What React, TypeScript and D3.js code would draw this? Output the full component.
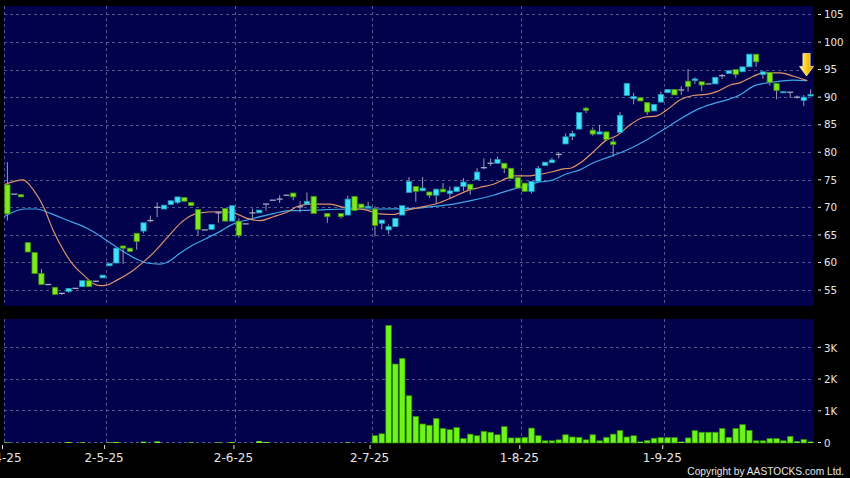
import React from "react";
import * as d3 from "d3";

const W = 850;
const H = 478;

// ---- data (slot index 0..118, null = no candle) ----
const openP: (number | null)[] = [
  74.1, 72.4, 72.3, 63.6, 61.8, 58.0, 56.0, 55.5, 54.4, 54.7,
  55.3, 55.6, 56.7, 56.6, 57.2, 59.4, 59.9, 63.0, 62.6, 65.3,
  65.7, 67.6, 70.0, 69.7, 70.5, 70.9, 71.8, 70.9, 69.6, 65.9,
  66.0, 69.0, 69.8, 67.5, 67.5, 67.0, 69.0, 69.0, 70.6, 71.3,
  71.5, 72.2, 72.6, 70.1, 70.6, 72.0, null, 68.9, null, 68.9,
  68.6, 72.0, 70.6, 69.9, 69.7, 67.1, 65.9, 66.5, 68.6, 72.7,
  73.8, 73.0, 72.8, 72.2, 73.3, 72.5, 72.9, 73.8, 74.2, 75.0,
  77.2, 78.0, 78.0, 78.0, 77.1, 75.4, 74.4, 72.9, 74.7, 77.6,
  78.1, 79.6, 81.5, 82.9, 84.2, 88.0, 84.0, 83.3, 83.7, 81.9,
  83.6, 90.3, 89.7, 89.9, 89.0, 87.5, 89.1, 90.8, 91.4, 91.3,
  92.9, 93.0, 92.8, 92.4, 92.4, 93.9, 94.3, 95.0, 94.6, 95.5,
  97.8, 94.1, 94.5, 92.5, 90.8, 90.9, 90.0, 89.4, 90.2,
];
const highP: (number | null)[] = [
  78.2, 72.4, 72.3, 63.6, 61.8, 58.8, 56.0, 55.5, 54.4, 55.3,
  55.3, 56.7, 56.7, 56.6, 57.7, 59.8, 62.6, 63.0, 62.6, 65.3,
  67.2, 68.5, 70.9, 70.4, 71.2, 71.9, 71.8, 70.9, 69.6, 65.9,
  66.9, 69.3, 69.8, 70.3, 68.0, 67.0, 69.8, 69.5, 70.6, 71.3,
  72.2, 72.2, 72.6, 71.1, 72.7, 72.0, null, 68.9, null, 68.9,
  72.1, 72.0, 70.6, 71.0, 70.2, 67.7, 66.9, 68.0, 70.3, 75.5,
  73.8, 75.5, 72.8, 73.3, 74.4, 73.8, 73.7, 75.3, 74.2, 77.1,
  78.9, 78.9, 79.2, 78.0, 77.1, 75.4, 74.4, 74.7, 77.5, 78.2,
  79.0, 80.0, 83.4, 83.9, 87.2, 88.2, 84.5, 85.0, 83.7, 82.5,
  87.3, 92.5, 90.8, 89.9, 89.0, 88.7, 91.0, 91.4, 91.4, 92.0,
  95.1, 93.6, 92.8, 92.4, 93.6, 94.2, 94.8, 95.0, 95.5, 97.8,
  97.8, 94.6, 94.5, 92.5, 91.0, 90.9, 90.3, 90.4, 91.4,
];
const lowP: (number | null)[] = [
  67.6, 72.4, 71.9, 61.9, 58.0, 56.0, 56.0, 54.2, 54.1, 54.5,
  55.3, 55.6, 55.6, 56.6, 57.2, 59.4, 59.9, 59.7, 62.0, 62.3,
  65.3, 67.3, 68.2, 69.7, 70.5, 70.6, 71.1, 70.3, 64.9, 65.9,
  66.0, 67.2, 67.5, 67.5, 64.5, 67.0, 68.0, 69.0, 69.4, 71.3,
  70.8, 72.2, 71.3, 69.1, 70.6, 68.9, null, 67.2, null, 68.0,
  68.6, 69.4, 69.9, 69.9, 64.7, 66.0, 65.1, 66.5, 68.6, 72.7,
  71.0, 73.0, 71.7, 70.6, 72.8, 71.5, 72.9, 73.0, 72.3, 75.0,
  76.9, 77.5, 78.0, 76.2, 75.2, 73.5, 72.9, 72.5, 74.7, 77.6,
  78.1, 78.9, 81.5, 82.2, 84.2, 87.1, 83.0, 83.3, 82.3, 79.2,
  83.6, 90.3, 88.7, 89.3, 86.8, 87.5, 89.1, 90.8, 90.4, 90.4,
  91.0, 92.4, 91.1, 92.4, 92.4, 93.3, 94.3, 93.5, 94.6, 95.5,
  95.5, 93.3, 92.1, 89.6, 90.8, 89.9, 89.7, 88.4, 90.2,
];
const closeP: (number | null)[] = [
  68.8, 72.4, 71.9, 61.9, 58.0, 56.0, 56.0, 54.2, 54.4, 55.3,
  55.3, 56.7, 55.6, 56.6, 57.7, 59.8, 62.6, 62.6, 62.0, 63.8,
  67.2, 67.6, 70.0, 70.4, 71.2, 71.9, 71.1, 70.3, 66.0, 65.9,
  66.9, 69.0, 67.5, 70.3, 64.9, 67.0, 69.0, 69.5, 70.6, 71.3,
  71.5, 72.2, 71.9, 70.1, 71.1, 68.9, null, 68.3, null, 68.3,
  71.5, 69.4, 69.9, 70.2, 66.7, 67.7, 66.5, 68.0, 70.3, 74.7,
  72.9, 73.5, 72.2, 73.3, 72.8, 73.0, 73.7, 74.6, 73.2, 76.4,
  77.2, 78.0, 78.7, 77.1, 75.2, 73.5, 72.9, 74.7, 77.1, 78.2,
  78.6, 79.6, 82.8, 83.4, 87.2, 87.6, 83.3, 83.7, 82.3, 81.4,
  86.7, 92.5, 90.1, 89.3, 87.3, 88.7, 90.5, 91.4, 90.4, 91.3,
  91.9, 93.3, 92.2, 92.4, 93.6, 93.9, 94.8, 94.1, 95.5, 97.8,
  96.4, 94.6, 92.7, 91.2, 91.0, 90.9, 90.0, 90.0, 90.5,
];
// volume in thousands
const volumeK: (number | null)[] = [
  0.02, 0, 0.01, 0.01, 0.01, 0.01, 0, 0.01, 0.01, 0.03,
  0, 0.02, 0.01, 0, 0.01, 0.02, 0.03, 0.01, 0.01, 0.01,
  0.04, 0.01, 0.05, 0.01, 0.01, 0.01, 0.01, 0.02, 0.01, 0,
  0.01, 0.02, 0.01, 0.03, 0.01, 0.01, 0.01, 0.06, 0.03, 0.01,
  0.01, 0.01, 0.01, 0.01, 0.01, 0.01, null, 0.01, null, 0.01,
  0.02, 0.01, 0.01, 0.01, 0.23, 0.29, 3.71, 2.49, 2.67, 1.49,
  0.84, 0.6, 0.56, 0.77, 0.46, 0.42, 0.49, 0.14, 0.28, 0.23,
  0.37, 0.34, 0.26, 0.52, 0.16, 0.16, 0.18, 0.47, 0.23, 0.07,
  0.07, 0.1, 0.26, 0.19, 0.18, 0.1, 0.26, 0.07, 0.18, 0.28,
  0.39, 0.19, 0.23, 0.04, 0.08, 0.15, 0.17, 0.17, 0.17, 0.04,
  0.16, 0.39, 0.34, 0.34, 0.34, 0.46, 0.18, 0.46, 0.58, 0.4,
  0.07, 0.07, 0.14, 0.14, 0.07, 0.21, 0.05, 0.11, 0.04,
];

// moving averages sampled at slot positions
const maShortIdx = [-0.5, 2.3, 3.8, 5.3, 6.7, 8.2, 9.7, 11.2, 12.6, 13.6, 14.6, 16.1, 18.5, 20.0, 21.4, 23.4, 25.4, 26.8, 28.3, 30.8, 33.2, 35.2, 37.1, 39.1, 41.5, 42.5, 44.5, 47.4, 49.4, 50.8, 52.8, 54.7, 56.7, 58.7, 60.6, 63.1, 65.5, 67.5, 69.4, 71.4, 73.4, 74.3, 76.3, 77.8, 80.2, 81.7, 82.7, 84.1, 86.1, 88.0, 89.5, 91.5, 93.4, 95.4, 96.9, 98.8, 100.8, 102.7, 104.2, 106.2, 107.6, 109.6, 111.1, 113.5, 115.5, 117.5];
const maShortVal = [74.1, 75.0, 73.2, 70.1, 65.9, 62.3, 59.5, 57.7, 56.2, 55.8, 55.9, 56.8, 58.6, 60.1, 61.7, 64.4, 67.1, 68.4, 69.0, 69.2, 69.0, 68.0, 67.6, 68.3, 69.4, 70.1, 70.6, 70.6, 70.0, 69.8, 69.5, 68.8, 68.7, 69.5, 70.0, 70.7, 71.9, 73.0, 73.6, 74.2, 75.3, 75.7, 75.7, 75.9, 76.5, 77.0, 77.1, 78.0, 80.1, 82.2, 83.0, 85.0, 86.3, 86.6, 87.7, 89.5, 90.3, 90.5, 91.0, 92.2, 92.6, 93.8, 94.4, 94.4, 93.8, 93.0];
const maLongIdx = [-0.5, 0.4, 2.6, 4.3, 6.3, 8.7, 11.7, 14.1, 16.5, 19.0, 20.5, 22.4, 23.4, 25.4, 27.3, 29.3, 31.2, 33.2, 35.2, 38.1, 41.5, 44.9, 49.9, 54.7, 59.6, 62.1, 65.5, 68.4, 71.4, 73.4, 75.3, 77.8, 80.2, 82.2, 84.1, 86.1, 88.5, 91.0, 94.4, 96.9, 98.8, 101.8, 104.2, 105.7, 107.6, 109.6, 111.6, 113.5, 115.5, 117.5];
const maLongVal = [68.3, 68.9, 69.7, 69.7, 68.9, 67.7, 66.2, 64.4, 62.4, 60.6, 59.9, 59.7, 60.0, 61.7, 63.2, 64.4, 65.6, 67.0, 67.7, 68.6, 69.4, 69.5, 69.7, 69.7, 69.8, 70.1, 70.6, 71.3, 72.2, 73.0, 73.6, 74.5, 75.0, 76.1, 76.8, 78.1, 79.2, 80.4, 82.6, 84.5, 86.0, 88.0, 89.0, 89.5, 90.4, 92.0, 92.6, 92.9, 93.1, 93.0];

const monthTickIdx = [0, 15, 34, 54, 76, 97];
const monthTickLabels = ["1-4-25", "2-5-25", "2-6-25", "2-7-25", "1-8-25", "1-9-25"];
const priceTicks = [55, 60, 65, 70, 75, 80, 85, 90, 95, 100, 105];
const volTicks = [0, 1, 2, 3];
const volTickLabels = ["0", "1K", "2K", "3K"];
const arrowAt = { idx: 117.4, price: 93.85 };

const N = openP.length;

const C = {
  bg: "#000000",
  panel: "#02024c",
  grid: "#6b6b9c",
  text: "#e6e6e6",
  upFill: "#3fe3fb",
  upStroke: "#1f95b5",
  downFill: "#7eea1e",
  downStroke: "#3f8c12",
  flat: "#a8a8c4",
  wick: "#9a9ab4",
  maShort: "#e0936a",
  maLong: "#3ea6e6",
  volFill: "#6cf516",
  volStroke: "#2f8a08",
};

export default function App() {
  const left = 4, right = 814;
  const x = d3.scaleBand<number>().domain(d3.range(N)).range([left, right]).paddingInner(0).paddingOuter(0);
  const bw = x.bandwidth();
  const xc = d3.scaleLinear().domain([-0.5, N - 0.5]).range([left, right]); // slot centers
  const y = d3.scaleLinear().domain([52.1, 106.54]).range([306, 6]);
  const yv = d3.scaleLinear().domain([0, 3.91]).range([443, 319]);

  const lineShort = d3.line<number>().x((_, i) => xc(maShortIdx[i])).y((v) => y(v)).curve(d3.curveMonotoneX);
  const lineLong = d3.line<number>().x((_, i) => xc(maLongIdx[i])).y((v) => y(v)).curve(d3.curveMonotoneX);

  const bodyW = bw * 0.78;
  const ax = xc(arrowAt.idx);
  const ay = y(arrowAt.price);
  const arrowPath = `M${ax},${ay} L${ax - 7},${ay - 9.5} L${ax - 3.6},${ay - 9.5} L${ax - 3.6},${ay - 22.5} L${ax + 3.6},${ay - 22.5} L${ax + 3.6},${ay - 9.5} L${ax + 7},${ay - 9.5} Z`;

  return (
    <svg width={W} height={H} style={{ position: "absolute", left: 0, top: 0, display: "block" }}
      fontFamily="'DejaVu Sans', Verdana, sans-serif">
      <defs>
        <linearGradient id="arrowGrad" x1="0" x2="1" y1="0" y2="0">
          <stop offset="0" stopColor="#fff4a8" />
          <stop offset="0.45" stopColor="#ffd21c" />
          <stop offset="1" stopColor="#d88f00" />
        </linearGradient>
      </defs>
      <rect x={0} y={0} width={W} height={H} fill={C.bg} />
      {/* panels */}
      <rect x={left} y={y.range()[1]} width={right - left} height={y.range()[0] - y.range()[1]} fill={C.panel} />
      <rect x={left} y={yv.range()[1]} width={right - left} height={yv.range()[0] - yv.range()[1]} fill={C.panel} />

      {/* grid */}
      <g stroke={C.grid} strokeWidth={1} strokeDasharray="3,3" opacity={0.8}>
        {priceTicks.map((t) => (
          <line key={"pg" + t} x1={left} x2={right} y1={Math.round(y(t)) + 0.5} y2={Math.round(y(t)) + 0.5} />
        ))}
        {volTicks.map((t) => (
          <line key={"vg" + t} x1={left} x2={right} y1={Math.round(yv(t)) - 0.5} y2={Math.round(yv(t)) - 0.5} />
        ))}
        {monthTickIdx.map((i) => (
          <g key={"mg" + i}>
            <line x1={Math.round(x(i)!) + 0.5} x2={Math.round(x(i)!) + 0.5} y1={y.range()[1]} y2={y.range()[0]} />
            <line x1={Math.round(x(i)!) + 0.5} x2={Math.round(x(i)!) + 0.5} y1={yv.range()[1]} y2={yv.range()[0]} />
          </g>
        ))}
      </g>

      {/* moving averages */}
      <path d={lineLong(maLongVal) || ""} fill="none" stroke={C.maLong} strokeWidth={1.2} />
      <path d={lineShort(maShortVal) || ""} fill="none" stroke={C.maShort} strokeWidth={1.2} />

      {/* candles */}
      <g>
        {openP.map((o, i) => {
          const c = closeP[i], h = highP[i], l = lowP[i];
          if (o == null || c == null || h == null || l == null) return null;
          const cx = xc(i);
          const up = c > o;
          const flat = c === o;
          const top = y(Math.max(o, c));
          const bot = y(Math.min(o, c));
          return (
            <g key={"c" + i}>
              {h !== l && (
                <line x1={cx} x2={cx} y1={y(h)} y2={y(l)} stroke={C.wick} strokeWidth={1} />
              )}
              {flat ? (
                <line x1={cx - bodyW / 2 - 0.4} x2={cx + bodyW / 2 + 0.4} y1={top} y2={top} stroke={C.flat} strokeWidth={1.3} />
              ) : (
                <rect x={cx - bodyW / 2} y={top} width={bodyW} height={Math.max(1.2, bot - top)}
                  fill={up ? C.upFill : C.downFill} stroke={up ? C.upStroke : C.downStroke} strokeWidth={0.8} />
              )}
            </g>
          );
        })}
      </g>

      {/* volume bars */}
      <g>
        {volumeK.map((v, i) => {
          if (v == null || v < 0.02) return null;
          const top = yv(v);
          const hgt = yv(0) - top;
          return (
            <rect key={"v" + i} x={x(i)! + 0.6} y={top} width={bw - 1.2} height={hgt}
              fill={C.volFill} stroke={C.volStroke} strokeWidth={hgt > 2 ? 0.7 : 0} />
          );
        })}
      </g>

      {/* arrow */}
      <path d={arrowPath} fill="url(#arrowGrad)" stroke="#fff6c8" strokeWidth={0.7} strokeLinejoin="round" />

      {/* right price axis */}
      <g fill={C.text} fontSize={10.3}>
        {priceTicks.map((t) => (
          <g key={"pt" + t}>
            <line x1={818} x2={821} y1={y(t)} y2={y(t)} stroke={C.text} strokeWidth={1} />
            <text x={824} y={y(t)} dy="0.36em">{t}</text>
          </g>
        ))}
        {volTicks.map((t, k) => (
          <g key={"vt" + t}>
            <line x1={818} x2={821} y1={yv(t) - 0.5} y2={yv(t) - 0.5} stroke={C.text} strokeWidth={1} />
            <text x={824} y={yv(t)} dy="0.36em">{volTickLabels[k]}</text>
          </g>
        ))}
      </g>

      {/* bottom date axis */}
      <g fill={C.text} fontSize={12}>
        {monthTickIdx.map((i, k) => (
          <g key={"dt" + i}>
            <line x1={x(i)! - 1.5} x2={x(i)! - 1.5} y1={445} y2={449} stroke={C.text} strokeWidth={1} />
            <text x={x(i)! - 2} y={462} textAnchor="middle">{monthTickLabels[k]}</text>
          </g>
        ))}
      </g>

      <text x={844} y={475} fill={C.text} fontSize={10.2} textAnchor="end"
        fontFamily="'Liberation Sans', Arial, sans-serif">
        Copyright by AASTOCKS.com Ltd.
      </text>
    </svg>
  );
}
